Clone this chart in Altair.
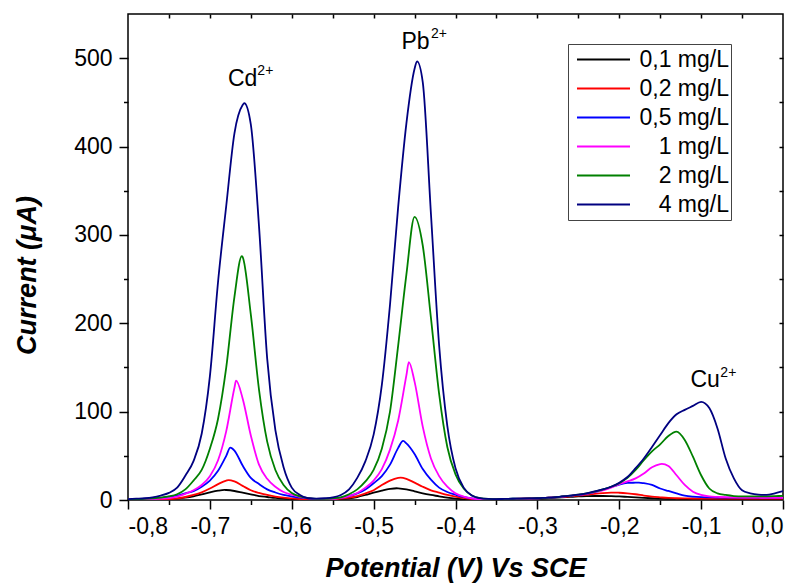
import altair as alt
import pandas as pd

# Potential grid (V vs SCE), step 0.01 V
potential = [round(-0.80 + 0.01 * i, 2) for i in range(81)]

# Current (uA) at each grid potential
c01 = [0.1, 0.2, 0.3, 0.4, 0.6, 0.8, 1.5, 2.6, 4.2, 6.4,
       8.7, 10.6, 11.3, 10.2, 8.3, 6.4, 4.5, 3.4, 2.3, 1.5,
       1.1, 0.8, 0.6, 0.5, 0.4, 0.4, 1.1, 1.9, 3.4, 5.7,
       8.3, 10.6, 12.5, 13.2, 12, 9.8, 7.5, 5.7, 4.2, 2.6,
       1.5, 0.8, 0.4, 0.4, 0.5, 0.6, 0.8, 1, 1.2, 1.4,
       1.6, 2, 2.5, 3, 3.5, 4, 4.3, 4.5, 4.5, 4.3,
       4, 3.5, 3, 2.5, 2, 1.5, 1.3, 1.2, 1.1, 1,
       1, 1, 1, 1, 1, 1, 1, 1, 1, 1, 1]
c02 = [0.2, 0.3, 0.4, 0.5, 0.7, 1, 1.9, 3.4, 5.7, 8.7,
       13, 18, 22, 21, 16, 11, 8, 5.7, 3.8, 2.6,
       1.9, 1.1, 0.8, 0.6, 0.6, 0.8, 1.5, 2.6, 4.5, 7.5,
       11, 17, 22, 25, 24, 19.6, 15, 11, 8.3, 5.7,
       3.8, 2.3, 1.1, 0.6, 0.6, 0.8, 1, 1.2, 1.4, 1.7,
       2, 2.5, 3, 3.5, 4.2, 5, 6, 7, 7.8, 8.3,
       8.2, 7.5, 6.5, 5, 3.8, 3, 2.3, 2, 1.8, 1.7,
       1.6, 1.5, 1.5, 1.5, 1.5, 1.5, 1.5, 1.5, 1.5, 1.5, 1.5]
c05 = [0.5, 0.7, 1, 1.5, 2.5, 3.8, 5, 7.5, 10, 15,
       22, 33, 50, 56, 39, 25, 18, 12, 8.5, 5.7,
       4, 2.6, 1.9, 1.2, 1, 1.5, 2.6, 4.5, 7.5, 12,
       19, 27, 40, 59, 64, 52, 35, 23, 14, 9,
       6, 3.4, 1.9, 1.1, 0.9, 1, 1.2, 1.4, 1.6, 1.8,
       2, 2.4, 3, 3.8, 4.7, 5.7, 7, 9, 11.5, 14.5,
       17.5, 19.3, 19.6, 19, 17, 13, 10.2, 7.5, 5, 3.8,
       3.2, 3, 2.8, 2.7, 2.6, 2.6, 2.6, 2.6, 2.6, 2.7, 2.8]
c1 = [0.3, 0.5, 0.8, 1.1, 1.5, 2.2, 3.8, 7, 11, 17,
      27, 45, 78, 127, 115, 73, 40, 24, 15, 9,
      6, 3.5, 2, 1, 0.8, 1.1, 2.3, 4.5, 8, 14,
      22, 35, 57, 90, 141, 134, 83, 47, 27, 15,
      7.5, 3.8, 1.8, 0.8, 0.8, 0.9, 1.1, 1.3, 1.5, 1.7,
      2, 2.4, 3, 3.8, 4.7, 5.7, 7, 9, 11, 14,
      18, 21, 24.5, 30, 37, 40.5, 38.5, 28, 17, 9.4,
      5.7, 4, 3.5, 3.2, 3, 2.8, 2.7, 2.6, 2.5, 2.5, 2.5]
c2 = [0.5, 0.8, 1.2, 1.8, 2.6, 4, 6.5, 12, 22, 34,
      58, 92, 150, 230, 275, 210, 125, 66, 34, 17,
      8, 4, 2, 1.2, 1.2, 1.9, 3, 6.5, 12, 21,
      34, 58, 100, 175, 255, 320.5, 288, 206, 120, 60,
      29, 13, 5, 2, 1.2, 1, 1.2, 1.4, 1.6, 1.8,
      2, 2.5, 3, 4, 5, 6, 7.5, 9.5, 12, 15,
      19, 25, 34, 45, 55, 63, 72.5, 77.4, 68, 49,
      28, 13, 7.5, 5.7, 4.5, 4, 4, 4, 4.2, 4.4, 4.6]
c4 = [1, 1.5, 2, 3, 5, 8, 14, 27.5, 44, 75,
      140, 247, 333, 415, 447, 425, 310, 160, 79, 37,
      14, 5.7, 2, 1.5, 2, 3, 5.7, 12, 25, 44,
      74, 130, 221, 332, 426, 488, 473, 324, 175, 84,
      36, 14, 5, 2, 1.2, 1, 1.2, 1.4, 1.6, 1.8,
      2, 2.5, 3, 4, 5, 6, 7.5, 9.8, 12, 15,
      19.6, 26, 36, 47, 60, 73.6, 87, 97, 102, 106.5,
      111, 104, 81, 47, 24.5, 11, 7.5, 6, 5.7, 7.5, 10]

# Peak tops read between grid points (potential, current)
peaks01 = [(-0.682, 11.4), (-0.4715, 13.3)]
peaks02 = [(-0.677, 22.6), (-0.467, 25.3), (-0.205, 8.4)]
peaks05 = [(-0.675, 59.3), (-0.464, 66.8), (-0.176, 19.7)]
peaks1 = [(-0.668, 135), (-0.457, 156), (-0.148, 40.8)]
peaks2 = [(-0.661, 276)]
peaks4 = [(-0.658, 449), (-0.447, 496.4)]

labels = ["0,1 mg/L", "0,2 mg/L", "0,5 mg/L", "1 mg/L", "2 mg/L", "4 mg/L"]
colors = ["#000000", "#ff0000", "#0000ff", "#ff00ff", "#008000", "#000080"]
series = [c01, c02, c05, c1, c2, c4]
extras = [peaks01, peaks02, peaks05, peaks1, peaks2, peaks4]

# Ion labels
ion_text = ["Cd", "Pb", "Cu"]
ion_x = [-0.678, -0.466, -0.113]
ion_y = [469, 510.4, 127.6]
sup_text = ["2+", "2+", "2+"]
sup_x = [-0.642, -0.430, -0.0765]
sup_y = [481, 523, 139.6]

major_x = [-0.8, -0.7, -0.6, -0.5, -0.4, -0.3, -0.2, -0.1, 0.0]
minor_x = [-0.75, -0.65, -0.55, -0.45, -0.35, -0.25, -0.15, -0.05]
all_x = [-0.75, -0.7, -0.65, -0.6, -0.55, -0.5, -0.45, -0.4, -0.35, -0.3,
         -0.25, -0.2, -0.15, -0.1, -0.05]
major_y = [0, 100, 200, 300, 400, 500]
minor_y = [50, 150, 250, 350, 450]
all_y = [50, 100, 150, 200, 250, 300, 350, 400, 450, 500]

rows = []
for lab, ys, ex in zip(labels, series, extras):
    assert len(ys) == len(potential)
    pts = sorted(list(zip(potential, ys)) + list(ex))
    for x, y in pts:
        rows.append({"potential": x, "current": y, "conc": lab})
df = pd.DataFrame(rows)

ion_df = pd.DataFrame({"x": ion_x, "y": ion_y, "t": ion_text})
sup_df = pd.DataFrame({"x": sup_x, "y": sup_y, "t": sup_text})

FONT = "Liberation Sans"
x_scale = alt.Scale(domain=[-0.8, 0.0], nice=False, zero=False)
y_scale = alt.Scale(domain=[0, 550], nice=False, zero=False)
label_expr = "(datum.value < 0 ? '-' : '') + replace(format(abs(datum.value), '.1f'), '.', ',')"

lines = alt.Chart(df).mark_line(strokeWidth=1.8, interpolate="monotone", clip=True).encode(
    x=alt.X("potential:Q", scale=x_scale,
            axis=alt.Axis(orient="bottom", values=major_x, labelExpr=label_expr,
                          title="Potential (V) Vs SCE", tickSize=9, labelPadding=6,
                          domain=False, grid=False, titleY=76, titleBaseline="alphabetic")),
    y=alt.Y("current:Q", scale=y_scale,
            axis=alt.Axis(orient="left", values=major_y, title="Current (\u03bcA)",
                          tickSize=9, labelPadding=7, domain=False, grid=False,
                          titleAngle=270, titleX=-93, titleY=261,
                          titleBaseline="alphabetic", titleAlign="center")),
    color=alt.Color("conc:N", scale=alt.Scale(domain=labels, range=colors),
                    legend=alt.Legend(title=None, orient="none", legendX=440, legendY=30,
                                      direction="vertical", symbolType="stroke",
                                      symbolSize=2809, symbolStrokeWidth=2,
                                      labelFont=FONT, labelFontSize=23, labelColor="black",
                                      labelAlign="right", labelOffset=98,
                                      labelLimit=300, padding=2, rowPadding=2,
                                      clipHeight=27, symbolOffset=6,
                                      strokeColor="#444444", fillColor="white")),
)

minor = alt.Chart(df).mark_line(opacity=0).encode(
    x=alt.X("potential:Q", scale=x_scale,
            axis=alt.Axis(orient="bottom", values=minor_x, labels=False, tickSize=4.5,
                          domain=False, grid=False, title="")),
    y=alt.Y("current:Q", scale=y_scale,
            axis=alt.Axis(orient="left", values=minor_y, labels=False, tickSize=4.5,
                          domain=False, grid=False, title="")),
)

mirror = alt.Chart(df).mark_line(opacity=0).encode(
    x=alt.X("potential:Q", scale=x_scale,
            axis=alt.Axis(orient="top", values=all_x, labels=False, tickSize=4,
                          offset=-4, domain=False, grid=False, title="")),
    y=alt.Y("current:Q", scale=y_scale,
            axis=alt.Axis(orient="right", values=all_y, labels=False, tickSize=4,
                          offset=-4, domain=False, grid=False, title="")),
)

ions = alt.Chart(ion_df).mark_text(align="left", baseline="alphabetic", font=FONT,
                                    fontSize=23, color="black").encode(
    x=alt.X("x:Q", scale=x_scale, axis=None),
    y=alt.Y("y:Q", scale=y_scale, axis=None),
    text="t:N",
)
sups = alt.Chart(sup_df).mark_text(align="left", baseline="alphabetic", font=FONT,
                                    fontSize=14, color="black").encode(
    x=alt.X("x:Q", scale=x_scale, axis=None),
    y=alt.Y("y:Q", scale=y_scale, axis=None),
    text="t:N",
)

chart = (
    alt.layer(minor, mirror, lines, ions, sups)
    .resolve_scale(x="shared", y="shared")
    .resolve_axis(x="independent", y="independent")
    .properties(width=655, height=486,
                padding={"left": 120, "top": 6, "right": 9, "bottom": 83},
                autosize=alt.AutoSizeParams(type="none"))
    .configure_view(stroke="black", strokeWidth=1.5)
    .configure_axis(labelFont=FONT, labelFontSize=23, labelColor="black",
                    titleFont=FONT, titleFontSize=27, titleFontWeight="bold",
                    titleFontStyle="italic", titleColor="black",
                    tickColor="black", tickWidth=1.5)
)

chart.save("out.html", embed_options={"renderer": "svg", "actions": False})
